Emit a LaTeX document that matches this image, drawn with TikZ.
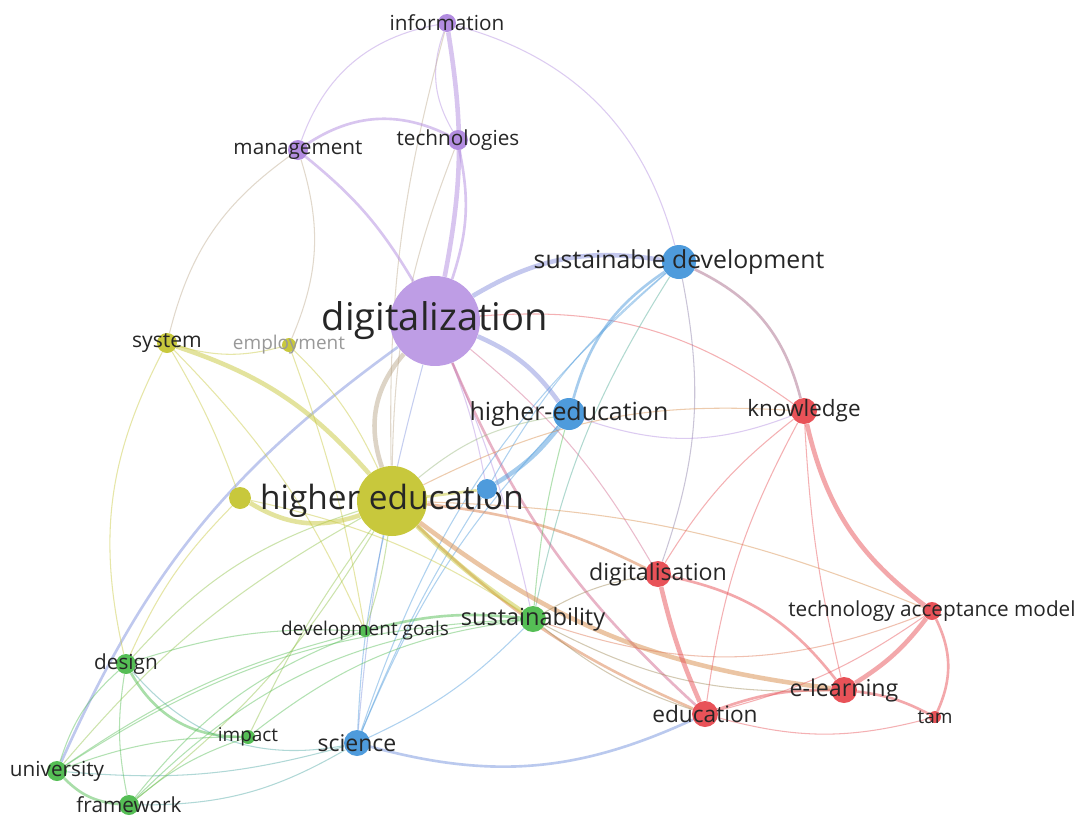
\documentclass[tikz,border=0pt]{standalone}
\usepackage{fontspec}
\setmainfont{Open Sans}
\pgfdeclarelayer{bg}
\pgfsetlayers{bg,main}

\definecolor{cPur}{RGB}{178,140,224}
\definecolor{cBlu}{RGB}{78,155,220}
\definecolor{cYel}{RGB}{200,200,60}
\definecolor{cRed}{RGB}{232,82,88}
\definecolor{cGrn}{RGB}{85,190,85}

\tikzset{
  dot/.style={circle, inner sep=0pt, minimum size=#1*0.2mm},
  lab/.style={font=\fontsize{#1}{#1}\selectfont, text=black!85, inner sep=0pt},
  thinE/.style={line width=0.6pt, draw opacity=0.45},
  midE/.style={line width=1.5pt, draw opacity=0.5},
  thickE/.style={line width=2.6pt, draw opacity=0.5},
}

\begin{document}
\begin{tikzpicture}[x=0.02cm, y=-0.02cm]

  \useasboundingbox (0,0) rectangle (1083,819);

  % keywords
  \node[dot=18, fill=cPur, label={[lab=11.8]center:information}] (info) at (447,23) {};
  \node[dot=20, fill=cPur, label={[lab=11.8]center:technologies}] (tech) at (458,140) {};
  \node[dot=20, fill=cPur, label={[lab=11.8]center:management}] (mgmt) at (298,150) {};
  \node[dot=90, fill=cPur!85, label={[lab=21.7]center:digitalization}] (digi) at (435,321) {};
  \node[dot=34, fill=cBlu, label={[lab=14.1]center:sustainable development}] (sdev) at (679,262) {};
  \node[dot=20, fill=cYel, label={[lab=12]center:system}] (syst) at (167,343) {};
  \node[dot=14, fill=cYel, label={[lab=10.8, text=black!40]center:employment}] (empl) at (289,345) {};
  \node[dot=32, fill=cBlu, label={[lab=14.2]center:higher-education}] (hedu) at (569,414) {};
  \node[dot=26, fill=cRed, label={[lab=12.8]center:knowledge}] (know) at (804,411) {};
  \node[dot=22, fill=cYel] (yel) at (240,498) {};
  \node[dot=70, fill=cYel, label={[lab=19]center:higher education}] (highed) at (392,501) {};
  \node[dot=20, fill=cBlu] (blu) at (487,489) {};
  \node[dot=26, fill=cRed, label={[lab=13.2]center:digitalisation}] (dgls) at (658,574) {};
  \node[dot=26, fill=cGrn, label={[lab=13.4]center:sustainability}] (sust) at (533,619) {};
  \node[dot=12, fill=cGrn, label={[lab=10.8]center:development goals}] (goals) at (365,631) {};
  \node[dot=18, fill=cRed, label={[lab=11.8]center:technology acceptance model}] (tamm) at (932,611) {};
  \node[dot=20, fill=cGrn, label={[lab=11.8]center:design}] (design) at (126,664) {};
  \node[dot=26, fill=cRed, label={[lab=13.2]center:e-learning}] (elrn) at (844,690) {};
  \node[dot=26, fill=cRed, label={[lab=12.9]center:education}] (educ) at (705,714) {};
  \node[dot=12, fill=cRed, label={[lab=10.8]center:tam}] (tam) at (935,717) {};
  \node[dot=14, fill=cGrn, label={[lab=10.8]center:impact}] (impact) at (248,737) {};
  \node[dot=26, fill=cBlu, label={[lab=13.1]center:science}] (sci) at (357,743) {};
  \node[dot=20, fill=cGrn, label={[lab=11.8]center:university}] (univ) at (57,771) {};
  \node[dot=20, fill=cGrn, label={[lab=11.8]center:framework}] (frame) at (129,805) {};

  \begin{pgfonlayer}{bg}
    \fill[white] (0,0) rectangle (1083,819);

    % purple links
    \foreach \a/\b/\bnd/\c in {info/tech/-25/cPur, info/mgmt/-30/cPur, info/sdev/30/cPur,
        info/highed/-8/cPur!50!cYel, mgmt/syst/-20/cPur!50!cYel, mgmt/empl/20/cPur!50!cYel,
        tech/highed/-10/cPur!50!cYel, digi/know/20/cRed, digi/blu/5/cPur,
        digi/sci/-5/cPur!50!cBlu, digi/sust/5/cPur, digi/dgls/10/cRed!60!cPur}
      \draw[thinE, \c] (\a) to[bend left=\bnd] (\b);
    \foreach \a/\b/\bnd/\c in {mgmt/tech/30/cPur, mgmt/digi/10/cPur, tech/digi/15/cPur,
        digi/univ/-15/cPur!50!cBlu, digi/educ/-12/cRed!60!cPur}
      \draw[midE, \c] (\a) to[bend left=\bnd] (\b);
    \foreach \a/\b/\bnd/\c in {info/digi/10/cPur, digi/sdev/20/cPur!60!cBlu,
        digi/hedu/15/cPur!60!cBlu, digi/highed/-30/cPur!50!cYel}
      \draw[thickE, \c] (\a) to[bend left=\bnd] (\b);

    % blue links
    \foreach \a/\b/\bnd/\c in {sdev/blu/-10/cBlu, sdev/sust/-10/cGrn!50!cBlu, sdev/dgls/15/cBlu!60!cRed,
        sdev/sci/-15/cBlu, hedu/know/-20/cPur, hedu/sci/-10/cBlu, hedu/sust/-5/cGrn,
        hedu/highed/-15/cYel!60!cBlu, blu/sci/-5/cBlu, sci/design/30/cBlu!60!cGrn,
        sci/frame/15/cBlu!60!cGrn, sci/univ/10/cBlu!60!cGrn, sci/highed/5/cBlu, sci/sust/-10/cBlu}
      \draw[thinE, \c] (\a) to[bend left=\bnd] (\b);
    \foreach \a/\b/\bnd/\c in {sdev/hedu/-20/cBlu, sdev/know/25/cRed!60!cBlu,
        sci/educ/-20/cBlu!60!cPur, blu/highed/0/cYel}
      \draw[midE, \c] (\a) to[bend left=\bnd] (\b);
    \draw[thickE, cBlu] (hedu) to[bend left=10] (blu);

    % yellow links
    \foreach \a/\b/\bnd/\c in {syst/empl/-15/cYel, syst/yel/5/cYel, syst/design/-20/cYel,
        syst/goals/10/cYel, empl/highed/10/cYel, empl/goals/5/cYel, yel/design/-10/cYel,
        yel/sust/10/cYel, highed/know/15/cYel!50!cRed, highed/tamm/10/cYel!50!cRed,
        highed/design/-15/cYel!50!cGrn, highed/univ/-10/cYel!50!cGrn,
        highed/frame/10/cYel!50!cGrn, highed/impact/-5/cYel!50!cGrn, highed/goals/5/cYel!50!cGrn}
      \draw[thinE, \c] (\a) to[bend left=\bnd] (\b);
    \foreach \a/\b/\bnd/\c in {highed/educ/-10/cYel!40!cRed, highed/dgls/10/cYel!40!cRed}
      \draw[midE, \c] (\a) to[bend left=\bnd] (\b);
    \foreach \a/\b/\bnd/\c in {syst/highed/15/cYel, yel/highed/-25/cYel,
        highed/sust/-5/cYel, highed/elrn/-15/cYel!50!cRed}
      \draw[thickE, \c] (\a) to[bend left=\bnd] (\b);

    % green links
    \foreach \a/\b/\bnd/\c in {sust/impact/-15/cGrn, sust/frame/-20/cGrn, sust/univ/-15/cGrn,
        sust/educ/-10/cGrn!50!cRed, sust/dgls/10/cGrn!50!cRed, sust/elrn/-15/cGrn!50!cRed,
        sust/tamm/-20/cRed!70!cYel, design/univ/-15/cGrn, design/frame/-10/cGrn,
        design/goals/10/cGrn, univ/impact/10/cGrn, frame/impact/10/cGrn,
        goals/frame/-15/cGrn, goals/univ/-10/cGrn}
      \draw[thinE, \c] (\a) to[bend left=\bnd] (\b);
    \foreach \a/\b/\bnd/\c in {sust/goals/-10/cGrn, design/impact/-30/cGrn, univ/frame/-20/cGrn}
      \draw[midE, \c] (\a) to[bend left=\bnd] (\b);

    % red links
    \foreach \a/\b/\bnd/\c in {know/dgls/-10/cRed, know/educ/-10/cRed, know/elrn/-5/cRed,
        tamm/educ/10/cRed, educ/tam/-15/cRed}
      \draw[thinE, \c] (\a) to[bend left=\bnd] (\b);
    \foreach \a/\b/\bnd/\c in {dgls/elrn/20/cRed, elrn/educ/-10/cRed, elrn/tam/10/cRed,
        tamm/tam/25/cRed}
      \draw[midE, \c] (\a) to[bend left=\bnd] (\b);
    \foreach \a/\b/\bnd/\c in {know/tamm/-20/cRed, dgls/educ/-5/cRed, elrn/tamm/-10/cRed}
      \draw[thickE, \c] (\a) to[bend left=\bnd] (\b);
  \end{pgfonlayer}

\end{tikzpicture}
\end{document}
